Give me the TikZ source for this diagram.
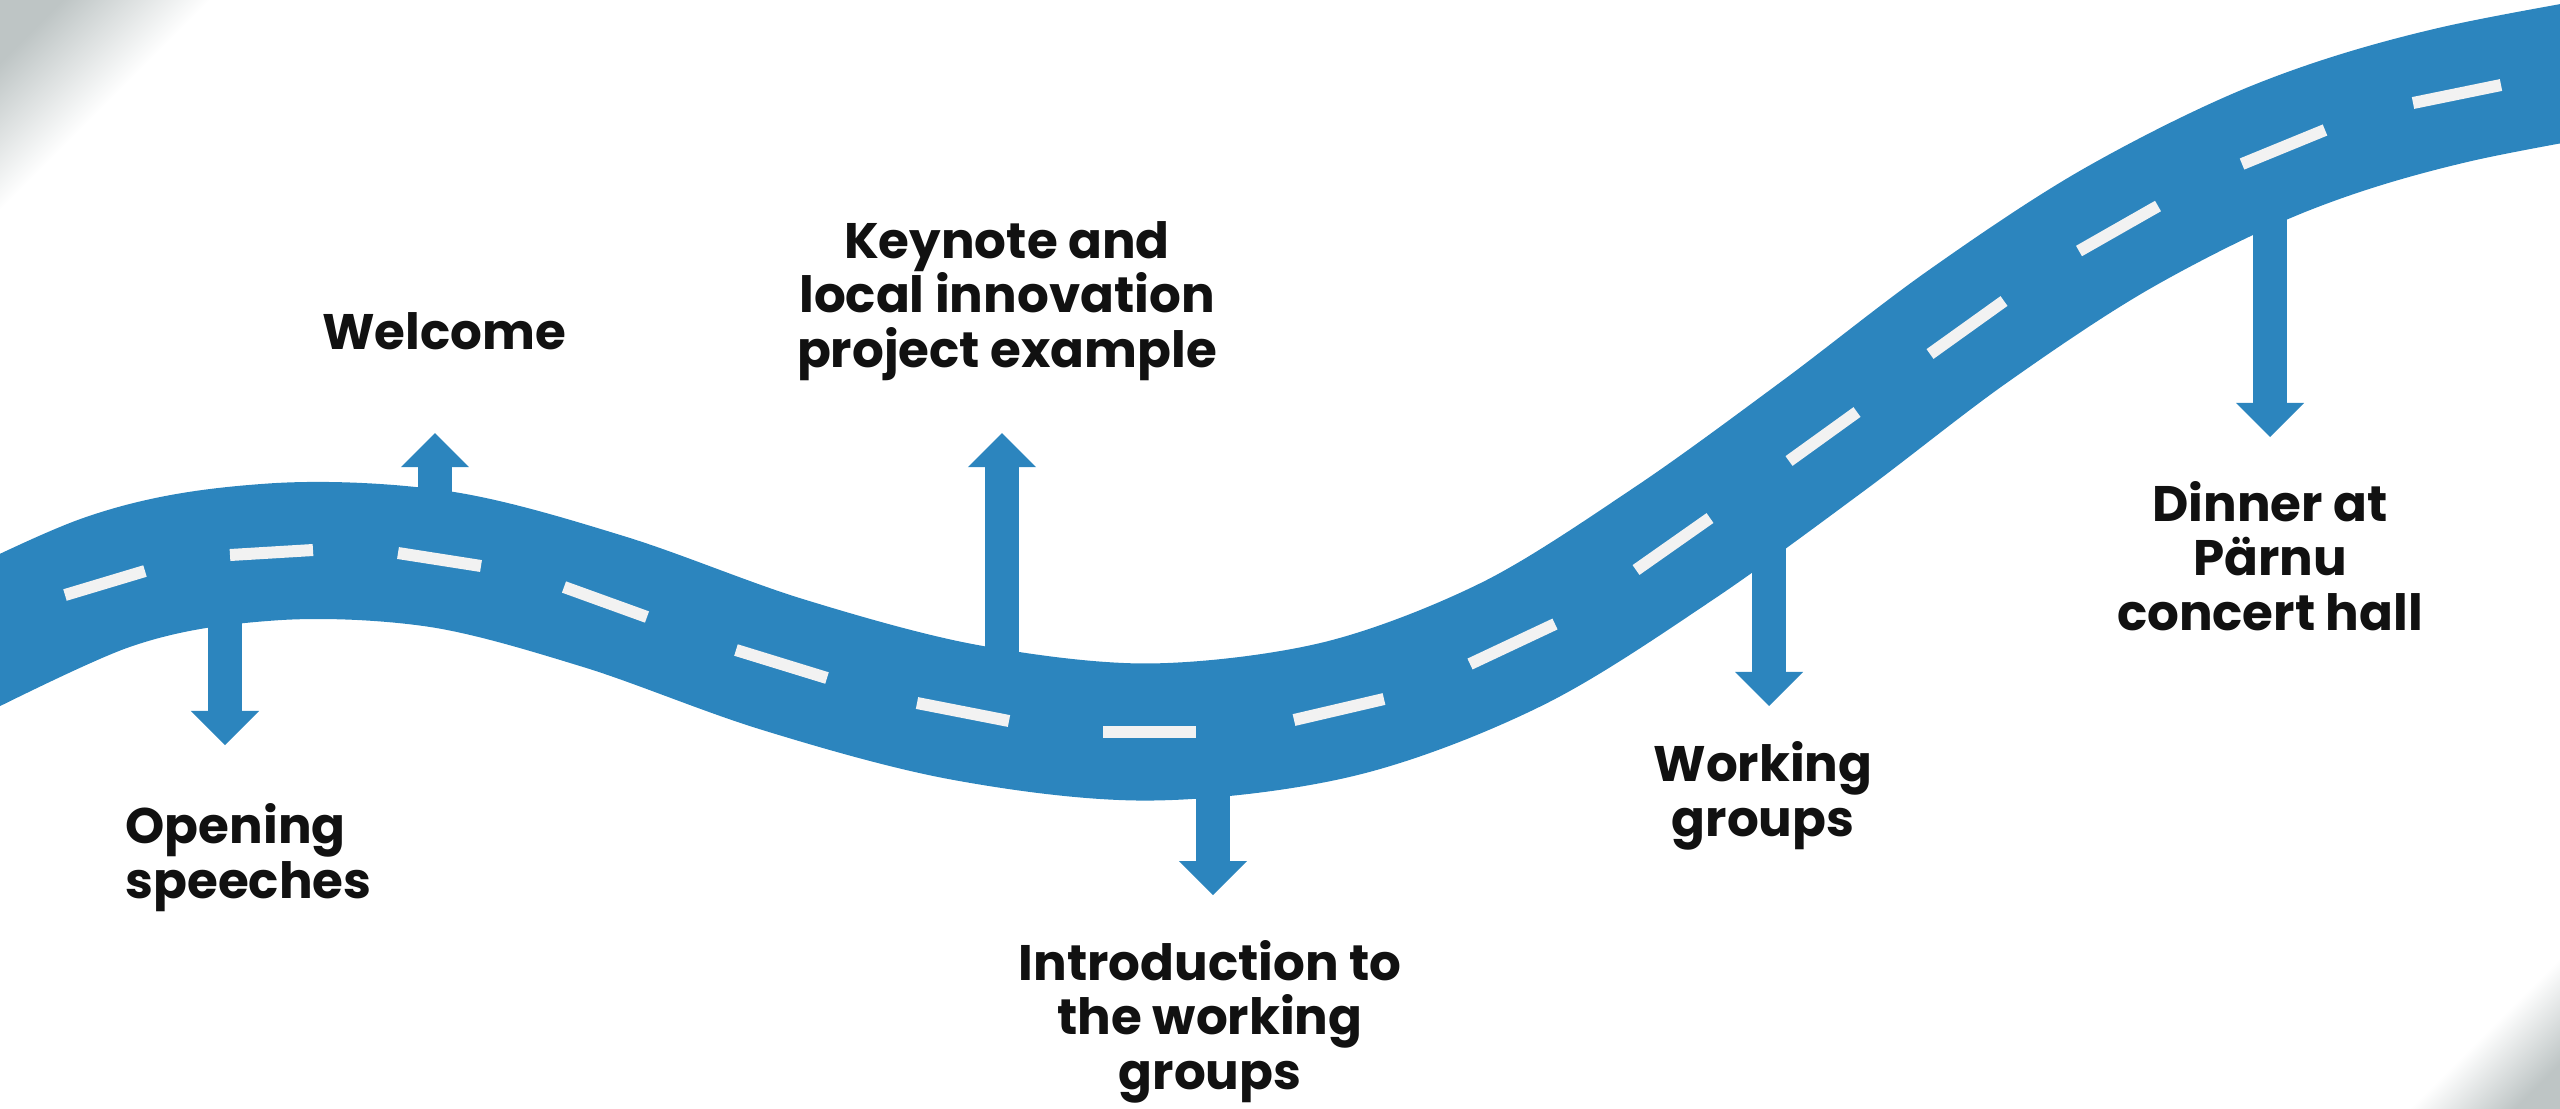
\documentclass[tikz,border=0pt]{standalone}
\usepackage{fontspec}
\setmainfont{Poppins}
\usetikzlibrary{arrows.meta}
\definecolor{roadblue}{RGB}{44,133,190}
\definecolor{dashgray}{RGB}{242,242,242}
\definecolor{txt}{RGB}{17,17,17}
\definecolor{cornergray}{RGB}{190,197,197}
\begin{document}
\begin{tikzpicture}[x=0.01cm,y=-0.01cm,
  lbl/.style={font=\fontsize{14.2}{15.5}\selectfont\bfseries, text=txt, inner sep=0pt, align=center},
  blockarrow/.style={draw=roadblue, line width=0.34cm, -{Triangle[width=0.68cm,length=0.34cm,line width=0pt]}},
  laneline/.style={draw=dashgray, line width=0.12cm},
  road/.style={draw=roadblue, line width=1.37cm}]
\useasboundingbox (0,0) rectangle (2560,1108);
\clip (0,0) rectangle (2560,1108);
% corner shadows
\shade[top color=cornergray, bottom color=white, middle color=white, shading angle=45] (0,0) rectangle (210,210);
\shade[top color=white, bottom color=cornergray, middle color=white, shading angle=45] (2410,958) rectangle (2560,1108);
% road
\draw[road] plot[smooth, tension=0.55] coordinates {(-120,690) (105,583) (271,552) (439,559) (605,602) (781,664) (963,712) (1149,732) (1339,709) (1512,644) (1673,544) (1823,436) (1967,327) (2118,228) (2283,147) (2457,94) (2720,46)};
% arrows
\coordinate (rOpen) at (225,600);   \coordinate (tOpen) at (225,745);
\coordinate (rWel) at (435,530);    \coordinate (tWel) at (435,433);
\coordinate (rKey) at (1002,680);   \coordinate (tKey) at (1002,433);
\coordinate (rIntro) at (1213,760); \coordinate (tIntro) at (1213,895);
\coordinate (rWork) at (1769,500);  \coordinate (tWork) at (1769,706);
\coordinate (rDin) at (2270,170);   \coordinate (tDin) at (2270,437);
\draw[blockarrow] (rOpen) -- (tOpen);
\draw[blockarrow] (rWel) -- (tWel);
\draw[blockarrow] (rKey) -- (tKey);
\draw[blockarrow] (rIntro) -- (tIntro);
\draw[blockarrow] (rWork) -- (tWork);
\draw[blockarrow] (rDin) -- (tDin);
% lane dashes
\draw[laneline] (65,595) -- (145,571);
\draw[laneline] (230,555) -- (313,550);
\draw[laneline] (398,553) -- (481,566);
\draw[laneline] (564,587) -- (647,617);
\draw[laneline] (736,650) -- (827,678);
\draw[laneline] (917,703) -- (1009,721);
\draw[laneline] (1103,732) -- (1196,732);
\draw[laneline] (1294,720) -- (1384,699);
\draw[laneline] (1470,664) -- (1555,624);
\draw[laneline] (1636,570) -- (1710,518);
\draw[laneline] (1789,461) -- (1857,412);
\draw[laneline] (1930,354) -- (2004,301);
\draw[laneline] (2079,251) -- (2158,206);
\draw[laneline] (2242,164) -- (2325,130);
\draw[laneline] (2413,103) -- (2501,85);
% labels (anchor base = baseline of the last line)
\node[lbl, anchor=base west, align=left] (open) at (125,898) {Opening\\speeches};
\node[lbl, anchor=base] (welcome) at (444,349) {Welcome};
\node[lbl, anchor=base] (key) at (1007,367) {Keynote and\\local innovation\\project example};
\node[lbl, anchor=base] (intro) at (1210,1089) {Introduction to\\the working\\groups};
\node[lbl, anchor=base] (work) at (1763,836) {Working\\groups};
\node[lbl, anchor=base] (dinner) at (2270,630) {Dinner at\\Pärnu\\concert hall};
\end{tikzpicture}
\end{document}
